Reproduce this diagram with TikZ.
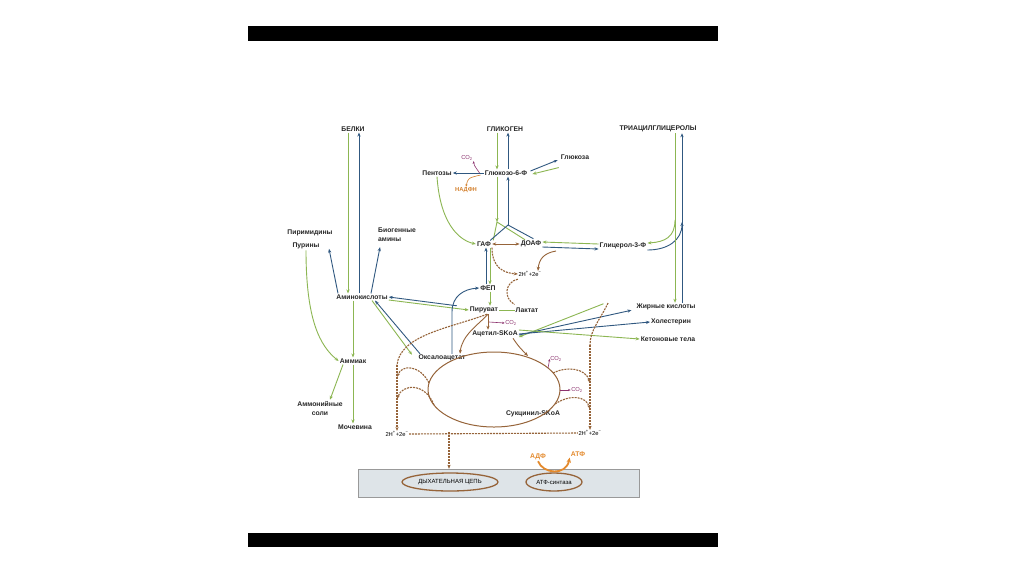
\documentclass[tikz,border=0pt]{standalone}
\usepackage{fontspec}
\setmainfont{Liberation Sans}
\usetikzlibrary{arrows.meta,calc,shapes.geometric}
\definecolor{gr}{RGB}{140,182,82}
\definecolor{bl}{RGB}{48,88,128}
\definecolor{br}{RGB}{150,100,58}
\definecolor{pu}{RGB}{140,50,110}
\definecolor{orn}{RGB}{228,138,45}
\definecolor{chainfill}{RGB}{222,228,232}
\tikzset{
 lbl/.style={font=\fontsize{6.8}{9}\selectfont\bfseries, inner sep=1pt, text=black!85},
 sml/.style={font=\fontsize{5.8}{7}\selectfont, inner sep=0.5pt},
 g/.style={draw=gr, line width=0.9pt},
 b/.style={draw=bl, line width=0.9pt},
 arr/.style={-{Stealth[length=4pt,width=3.2pt]}},
 brs/.style={draw=br, line width=0.9pt},
 brd/.style={draw=br, line width=1.1pt, dash pattern=on 2pt off 1pt},
 pua/.style={draw=pu, line width=0.6pt, -{Stealth[length=2.5pt,width=2.2pt]}},
}
\begin{document}
\begin{tikzpicture}[x=1pt,y=-1pt]
\useasboundingbox (0,0) rectangle (1024,574);
\fill[white] (0,0) rectangle (1024,574);
\fill[black] (248,26) rectangle (718,41);
\fill[black] (248,533) rectangle (718,547);

% bottom membrane
\node[draw=black!40, fill=chainfill, minimum width=281pt, minimum height=28pt, inner sep=0] (chain) at (498.5,483) {};
\node[ellipse, draw=br, line width=1.3pt, minimum width=96pt, minimum height=18pt, inner sep=0, font=\fontsize{6}{7}\selectfont] (dc) at (450,482) {ДЫХАТЕЛЬНАЯ ЦЕПЬ};
\node[ellipse, draw=br, line width=1.3pt, minimum width=56pt, minimum height=18pt, inner sep=0, font=\fontsize{6}{7}\selectfont] (atfs) at (554,482) {АТФ-синтаза};
\node[lbl, text=orn] (adf) at (538,457) {АДФ};
\node[lbl, text=orn] (atf) at (578,454) {АТФ};
\draw[draw=orn, line width=1.8pt, -{Stealth[length=5pt,width=4.5pt]}] (adf.south) .. controls (543,474) and (566,476) .. (atf.south west);

% labels
\node[lbl] (belki) at (353,129) {БЕЛКИ};
\node[lbl] (glikogen) at (505,129) {ГЛИКОГЕН};
\node[lbl] (tag) at (658,129) {ТРИАЦИЛГЛИЦЕРОЛЫ};
\node[lbl] (g6f) at (506,173) {Глюкозо-6-Ф};
\node[lbl] (pent) at (437,173) {Пентозы};
\node[lbl] (glu) at (575,157) {Глюкоза};
\node[sml, text=pu] (co2a) at (467,158) {CO\textsubscript{2}};
\node[sml, text=orn!80!br, font=\fontsize{5.8}{7}\selectfont\bfseries] (nadph) at (466,190) {НАДФН};
\node[lbl] (pirim) at (310,233) {Пиримидины};
\node[lbl] (purin) at (306,246) {Пурины};
\node[lbl, align=left, anchor=north west] (biogen) at (377,227) {Биогенные\\амины};
\node[lbl] (gaf) at (484,244) {ГАФ};
\node[lbl] (doaf) at (531,244) {ДОАФ};
\node[lbl] (glyc) at (623,246) {Глицерол-3-Ф};
\node[sml] (h2a) at (530,274) {2H\textsuperscript{+}+2e\textsuperscript{−}};
\node[lbl] (fep) at (488,288) {ФЕП};
\node[lbl] (amino) at (362,297) {Аминокислоты};
\node[lbl] (piruv) at (484,310) {Пируват};
\node[lbl] (lact) at (527,310) {Лактат};
\node[lbl] (zhk) at (666,307) {Жирные кислоты};
\node[lbl] (chol) at (671,322) {Холестерин};
\node[sml, text=pu] (co2b) at (511,323) {CO\textsubscript{2}};
\node[lbl] (acetyl) at (495,334) {Ацетил-SKoA};
\node[lbl] (keton) at (668,339) {Кетоновые тела};
\node[lbl] (ammiak) at (353,361) {Аммиак};
\node[lbl] (oxal) at (442,358) {Оксалоацетат};
\node[sml, text=pu] (co2c) at (556,359) {CO\textsubscript{2}};
\node[sml, text=pu] (co2d) at (577,390) {CO\textsubscript{2}};
\node[lbl, align=center] (amsol) at (320,408) {Аммонийные\\соли};
\node[lbl] (sukc) at (533,414) {Сукцинил-SKoA};
\node[lbl] (mochev) at (355,427) {Мочевина};
\node[sml] (h2l) at (397,434) {2H\textsuperscript{+}+2e\textsuperscript{−}};
\node[sml] (h2r) at (590,433) {2H\textsuperscript{+}+2e\textsuperscript{−}};

% TCA cycle
\node[ellipse, draw=br, line width=1pt, minimum width=132pt, minimum height=75pt, inner sep=0] (tca) at (494,389.5) {};

% proteins
\draw[g,arr] ([xshift=-5]belki.south) -- ([xshift=-14]amino.north);
\draw[b,arr] ([xshift=-3]amino.north) -- ([xshift=6]belki.south);
\draw[b,arr] ([xshift=-24]amino.north) -- ([xshift=23,yshift=-7]purin.north);
\draw[b,arr] ([xshift=9]amino.north) -- ([xshift=3,yshift=-4]biogen.south west);
\draw[g,arr] (purin.south) .. controls (306,320) and (320,346) .. (ammiak.west);
\draw[g,arr] ([xshift=-9]amino.south) -- (ammiak.north);
\draw[g,arr] (ammiak.south) -- (mochev.north -| ammiak.south);
\draw[g,arr] ([xshift=-10]ammiak.south) -- ([xshift=10]amsol.north);
\draw[b,arr] ([xshift=-12]piruv.north west) -- (amino.east);
\draw[g,arr] ([yshift=-3]amino.east) -- (piruv.west);
\draw[b,arr] ([xshift=-22]oxal.north) -- ([xshift=13]amino.south);
\draw[g,arr] ([xshift=10]amino.south) -- ([xshift=-30,yshift=-1]oxal.north);

% glycogen / glucose
\draw[g,arr] ([xshift=-8]glikogen.south) -- ([xshift=-9]g6f.north);
\draw[b,arr] ([xshift=2]g6f.north) -- ([xshift=3]glikogen.south);
\draw[b,arr] (g6f.west) -- (pent.east);
\draw[pua] ([xshift=-4]g6f.west) .. controls (474,165) .. (co2a.south east);
\draw[draw=orn!80!br, line width=0.6pt, -{Stealth[length=2.5pt,width=2.2pt]}] ([xshift=-3,yshift=-2]g6f.west) .. controls (468,178) .. (nadph.north);
\draw[b,arr] ([xshift=2,yshift=2]g6f.east) -- ([xshift=-2,yshift=-3]glu.west);
\draw[g,arr] ([xshift=-1,yshift=-7]glu.south west) -- ([xshift=4,yshift=-1]g6f.east);

% glycolysis Y
\coordinate (yg) at (497,222);
\coordinate (yb) at (508,225);
\draw[g,arr] ([xshift=-9]g6f.south) -- (yg);
\draw[g] ([xshift=1]gaf.north east) -- (yg) -- ([xshift=-6]doaf.north);
\draw[b,arr] (yb) -- ([xshift=2]g6f.south);
\draw[b] ([xshift=-2]gaf.north east) -- (yb) -- ([xshift=-9,yshift=1]doaf.north east);
\draw[draw=br, line width=1pt, {Stealth[length=4pt,width=3.2pt]}-{Stealth[length=4pt,width=3.2pt]}] (gaf.east) -- (doaf.west);
\draw[g,arr] (pent.south) .. controls (440,222) and (458,240) .. (gaf.west);

% glycerol-3-P
\draw[g,arr] ([yshift=2]glyc.west) -- ([yshift=2]doaf.east);
\draw[b,arr] ([yshift=-3]doaf.east) -- ([yshift=-3]glyc.west);
\draw[g,arr] (675,220) .. controls (675,237) and (665,242) .. ([yshift=3]glyc.east);
\draw[b,arr] ([yshift=-4]glyc.east) .. controls (668,250) and (682,240) .. (682,222);
\draw[g,arr] ([xshift=17]tag.south) -- ([xshift=9]zhk.north);
\draw[b,arr] ([xshift=16]zhk.north) -- ([xshift=24]tag.south);

% GAF -> FEP -> pyruvate
\draw[b,arr] ([xshift=-2]fep.north) -- ([xshift=2]gaf.south);
\draw[g,arr] ([xshift=6]gaf.south) -- ([xshift=2]fep.north);
\draw[g,arr] ([xshift=2]fep.south) -- ([xshift=6]piruv.north);
\draw[b,arr] ([xshift=10]oxal.north) -- (452,312) .. controls (452,296) and (464,289) .. (fep.west);
\draw[g] (piruv.east) -- (lact.west);

% hydrogen transfers near glycolysis
\draw[brd,arr] ([xshift=8]gaf.south) .. controls (492,268) and (504,273) .. (h2a.west);
\draw[brs,arr] (556,251) .. controls (544,253) and (539,259) .. ([xshift=8]h2a.north);
\draw[brd] ([yshift=-2]h2a.south west) .. controls (505,282) and (503,298) .. ([yshift=2]lact.north west);

% pyruvate -> acetyl, oxaloacetate
\draw[brs,arr] ([xshift=4]piruv.south) -- ([xshift=-7]acetyl.north);
\draw[pua] (489,322) -- (co2b.west);
\draw[brs,arr] ([xshift=4]piruv.south) .. controls (478,325) and (462,335) .. ([xshift=18]oxal.north);
\draw[brd] ([xshift=3]piruv.south) .. controls (450,328) and (400,335) .. (397,365);
\draw[brd,arr] (397,365) -- (h2l.north);
\draw[brs,arr] ([xshift=18]acetyl.south) .. controls (518,346) and (522,350) .. (528,356);

% acetyl-CoA branches
\draw[g,arr] ([xshift=-32,yshift=-1]zhk.north west) -- ([yshift=-3]acetyl.east);
\draw[b,arr] ([yshift=-1]acetyl.east) -- ([xshift=-4,yshift=1]zhk.south west);
\draw[b,arr] (acetyl.east) -- (chol.west);
\draw[g,arr] ([yshift=4]acetyl.east) -- (keton.west);

% TCA hydrogen and CO2
\coordinate (tl1) at (429,383);
\coordinate (tl2) at (434,405);
\coordinate (tr1) at (553,373);
\coordinate (tr2) at (555,404);
\draw[brd,arr] (tl1) .. controls (420,365) and (402,364) .. (397,377);
\draw[brd,arr] (tl2) .. controls (425,382) and (402,384) .. (397,399);
\draw[brd] (608,303) .. controls (600,320) and (590,330) .. (590,345);
\draw[brd,arr] (590,345) -- (h2r.north);
\draw[brd,arr] (tr1) .. controls (566,366) and (586,368) .. (590,383);
\draw[brd,arr] (tr2) .. controls (570,394) and (586,396) .. (590,409);
\draw[pua] (548,368) .. controls (549,363) .. (co2c.west);
\draw[pua] (560,390) -- (co2d.west);

% to respiratory chain
\draw[brd] (h2l.east) -- (h2r.west);
\coordinate (drop) at (449,432);
\draw[brd,arr] (drop) -- (chain.north -| drop);
\end{tikzpicture}
\end{document}
